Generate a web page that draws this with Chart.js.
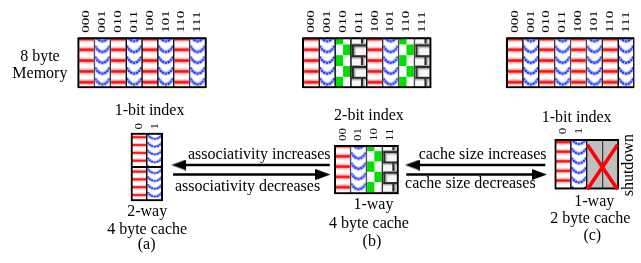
<!DOCTYPE html>
<html>
<head>
<meta charset="utf-8">
<script src="https://cdn.jsdelivr.net/npm/chart.js@4.4.1/dist/chart.umd.min.js"></script>
<style>
  html, body { margin: 0; padding: 0; background: #fff; }
  canvas { display: block; }
</style>
</head>
<body>
<canvas id="diagram" width="641" height="263"></canvas>
<script>
// ---- values ----
var addressLabels = ['000', '001', '010', '011', '100', '101', '110', '111'];
var memoryFillA = ['red', 'blue', 'red', 'blue', 'red', 'blue', 'red', 'blue'];
var memoryFillB = ['red', 'blue', 'green', 'brick', 'red', 'blue', 'green', 'brick'];
var memoryFillC = ['red', 'blue', 'red', 'blue', 'red', 'blue', 'red', 'blue'];
var cacheFillA = ['red', 'blue', 'red', 'blue'];      // 2 sets x 2 ways
var cacheFillB = ['red', 'blue', 'green', 'brick'];
var cacheFillC = ['red', 'blue', 'off', 'off'];
var indexLabelsA = ['0', '1'];
var indexLabelsB = ['00', '01', '10', '11'];
var indexLabelsC = ['0', '1'];
var indexTitles = ['1-bit index', '2-bit index', '1-bit index'];
var wayTitles = ['2-way', '1-way', '1-way'];
var sizeTitles = ['4 byte cache', '4 byte cache', '2 byte cache'];
var panelTags = ['(a)', '(b)', '(c)'];
var memoryTitle = ['8 byte', 'Memory'];
var arrowTexts = ['associativity increases', 'associativity decreases', 'cache size increases', 'cache size decreases'];
var offLabel = 'shutdown';

// ---- layout (pixel units of the x/y scales) ----
var cellW = 16.2;
var textSize = 16;
var serif = '"Liberation Serif", "DejaVu Serif", serif';
var boxes = [
    { fill: memoryFillA, labels: addressLabels, left: 73.5, top: 32.3, bottom: 86, cols: 8, period: 10.8, phase: 1.7, labelBottom: 27.5, labelSize: 15, squash: 0.7 },
    { fill: memoryFillB, labels: addressLabels, left: 303, top: 32.3, bottom: 86, cols: 8, period: 10.8, phase: 1.7, labelBottom: 27.5, labelSize: 15, squash: 0.7 },
    { fill: memoryFillC, labels: addressLabels, left: 511, top: 32.3, bottom: 86, cols: 8, period: 10.8, phase: 1.7, labelBottom: 27.5, labelSize: 15, squash: 0.7 },
    { fill: cacheFillA, labels: indexLabelsA, left: 127, top: 132.7, bottom: 205, cols: 2, period: 7.8, phase: 4.6, labelBottom: 129.5, labelSize: 13, squash: 0.85 },
    { fill: cacheFillB, labels: indexLabelsB, left: 335, top: 145.7, bottom: 197.5, cols: 4, period: 10.3, phase: 1, labelBottom: 141.5, labelSize: 13, squash: 0.85 },
    { fill: cacheFillC, labels: indexLabelsC, left: 560, top: 139.5, bottom: 192.5, cols: 4, period: 9.6, phase: 3, labelBottom: 134.5, labelSize: 13, squash: 0.85 }
];
var indexTitlePos = [[146, 110], [370, 115], [582, 117]];
var wayTitlePos = [[143.5, 216.5], [374.5, 209], [600, 205.5]];
var sizeTitlePos = [[143.5, 235.5], [370, 228.5], [596, 223.5]];
var panelTagPos = [[143, 251], [373, 248], [598, 241]];
var memoryTitlePos = [[34, 52.5], [34, 71]];
var arrowTextPos = [[258, 156], [246, 189.5], [486, 156], [473.5, 187]];
var offLabelPos = [639.5, 167];
var arrows = [
    { from: 330, to: 168.5, y: 166.8 },
    { from: 170, to: 330.5, y: 176.8 },
    { from: 550, to: 407, y: 166.8 },
    { from: 408, to: 551.5, y: 176.8 }
];

// ---- fill patterns ----
function newTile(w, h) {
    var c = document.createElement('canvas');
    c.width = w;
    c.height = h;
    return c;
}

function buildTiles() {
    var t = {};
    var c, g, k, base;

    c = newTile(16, 22); g = c.getContext('2d');
    g.fillStyle = '#fff'; g.fillRect(0, 0, 16, 22);
    for (k = 0; k < 2; k++) {
        base = k * 11;
        g.fillStyle = '#ffbcbc'; g.fillRect(0, base + 2.5, 16, 6);
        g.fillStyle = '#ff0a0a'; g.fillRect(0, base + 4.2, 16, 2.6);
    }
    t.red = c;

    c = newTile(16, 22); g = c.getContext('2d');
    g.fillStyle = '#fff'; g.fillRect(0, 0, 16, 22);
    for (k = 0; k < 2; k++) {
        base = k * 11;
        g.beginPath();
        g.moveTo(0.5, base + 1.5);
        g.quadraticCurveTo(8, base + 14, 15.5, base + 1.5);
        g.setLineDash([]);
        g.strokeStyle = '#b4bdff'; g.lineWidth = 3.8; g.stroke();
        g.setLineDash([2, 1]);
        g.strokeStyle = '#1428ff'; g.lineWidth = 2.2; g.stroke();
    }
    t.blue = c;

    c = newTile(16, 22); g = c.getContext('2d');
    g.fillStyle = '#fff'; g.fillRect(0, 0, 16, 22);
    g.fillStyle = '#00e000';
    g.fillRect(0, 0, 8, 11);
    g.fillRect(8, 11, 8, 11);
    t.green = c;

    c = newTile(16, 22); g = c.getContext('2d');
    g.fillStyle = '#f6f6f6'; g.fillRect(0, 0, 16, 22);
    for (k = 0; k < 2; k++) {
        base = k * 11;
        var vx = k === 0 ? 10 : 1;
        g.fillStyle = '#a8a8a8';
        g.fillRect(0, base + 2, 16, 1.5);
        g.fillRect(vx + 2, base + 2, 1.5, 9);
        g.fillRect(0, base - 1, 16, 1);
        g.fillStyle = '#2a2a2a';
        g.fillRect(0, base, 16, 2);
        g.fillRect(vx, base, 2, 11);
    }
    t.brick = c;

    c = newTile(15, 11); g = c.getContext('2d');
    g.fillStyle = '#000';
    g.beginPath(); g.moveTo(0, 0); g.lineTo(15, 5.5); g.lineTo(0, 11); g.closePath(); g.fill();
    t.arrowHead = c;
    return t;
}
var tiles = buildTiles();

function cellFill(chart, kind, box, px, py) {
    if (kind === 'off') return '#c0c0c0';
    var pat = chart.ctx.createPattern(tiles[kind], 'repeat');
    var s = box.period / 11;
    pat.setTransform(new DOMMatrix().translateSelf(px, py + box.phase - 5.5 * s).scaleSelf(cellW / 16, s));
    return pat;
}

// ---- datasets ----
var datasets = [];

boxes.forEach(function (box) {
    var rows = box.fill.length / box.cols;
    var h = (box.bottom - box.top) / rows;
    var cells = box.fill.map(function (kind, i) {
        var col = i % box.cols, row = Math.floor(i / box.cols);
        return { x: box.left + (col + 0.5) * cellW, y: [box.top + row * h, box.top + (row + 1) * h] };
    });
    datasets.push({
        type: 'bar',
        data: cells,
        grouped: false,
        barThickness: cellW,
        borderWidth: 1,
        borderColor: '#000',
        borderSkipped: false,
        inflateAmount: 0,
        order: 3,
        backgroundColor: function (c) {
            if (c.type !== 'data' || !c.raw) return '#fff';
            var px = c.chart.scales.x.getPixelForValue(c.raw.x) - cellW / 2;
            var py = c.chart.scales.y.getPixelForValue(c.raw.y[0]);
            return cellFill(c.chart, box.fill[c.dataIndex], box, px, py);
        }
    });
    // outer frame
    datasets.push({
        type: 'bar',
        data: [{ x: box.left + box.cols * cellW / 2, y: [box.top, box.bottom] }],
        grouped: false,
        barThickness: box.cols * cellW,
        borderWidth: 2,
        borderColor: '#000',
        borderSkipped: false,
        inflateAmount: 0,
        backgroundColor: 'rgba(0,0,0,0)',
        order: 2
    });
});

arrows.forEach(function (a) {
    var dir = a.to > a.from ? 1 : -1;
    datasets.push({
        type: 'line',
        data: [{ x: a.from, y: a.y }, { x: a.to - dir * 7.5, y: a.y }],
        borderColor: '#000',
        borderWidth: 2.6,
        tension: 0,
        fill: false,
        pointStyle: function (c) { return c.dataIndex === 1 ? tiles.arrowHead : 'circle'; },
        pointRadius: function (c) { return c.dataIndex === 1 ? 1 : 0; },
        pointRotation: dir > 0 ? 0 : 180,
        order: 1
    });
});

// red cross over the switched-off ways of (c)
var boxC = boxes[5];
var firstOff = cacheFillC.indexOf('off');
var offX0 = boxC.left + firstOff * cellW + 0.5;
var offX1 = boxC.left + boxC.cols * cellW - 1;
[[boxC.top + 6, boxC.bottom], [boxC.bottom, boxC.top + 6]].forEach(function (ys) {
    datasets.push({
        type: 'line',
        data: [{ x: offX0, y: ys[0] }, { x: offX1, y: ys[1] }],
        borderColor: '#ff0000',
        borderWidth: 3.6,
        pointRadius: 0,
        tension: 0,
        order: 0
    });
});

// ---- text ----
var textPlugin = {
    id: 'diagramText',
    afterDatasetsDraw: function (chart) {
        var ctx = chart.ctx;
        var sx = chart.scales.x, sy = chart.scales.y;
        function X(v) { return sx.getPixelForValue(v); }
        function Y(v) { return sy.getPixelForValue(v); }
        function put(str, pos, size) {
            ctx.save();
            ctx.font = size + 'px ' + serif;
            ctx.fillStyle = '#000';
            ctx.textAlign = 'center';
            ctx.textBaseline = 'middle';
            ctx.fillText(str, X(pos[0]), Y(pos[1]));
            ctx.restore();
        }

        boxes.forEach(function (box) {
            box.labels.forEach(function (lab, i) {
                ctx.save();
                ctx.translate(X(box.left + (i + 0.5) * cellW), Y(box.labelBottom));
                ctx.rotate(-Math.PI / 2);
                ctx.scale(1, box.squash);
                ctx.font = box.labelSize + 'px ' + serif;
                ctx.fillStyle = '#000';
                ctx.textAlign = 'left';
                ctx.textBaseline = 'middle';
                ctx.fillText(lab, 0, 0);
                ctx.restore();
            });
        });

        memoryTitle.forEach(function (s, i) { put(s, memoryTitlePos[i], textSize); });
        indexTitles.forEach(function (s, i) { put(s, indexTitlePos[i], textSize); });
        wayTitles.forEach(function (s, i) { put(s, wayTitlePos[i], textSize); });
        sizeTitles.forEach(function (s, i) { put(s, sizeTitlePos[i], textSize); });
        panelTags.forEach(function (s, i) { put(s, panelTagPos[i], textSize); });
        arrowTexts.forEach(function (s, i) { put(s, arrowTextPos[i], textSize); });

        ctx.save();
        ctx.translate(X(offLabelPos[0]), Y(offLabelPos[1]));
        ctx.rotate(-Math.PI / 2);
        ctx.font = textSize + 'px ' + serif;
        ctx.fillStyle = '#000';
        ctx.textAlign = 'center';
        ctx.textBaseline = 'alphabetic';
        ctx.fillText(offLabel, 0, 0);
        ctx.restore();
    }
};

var diagram = new Chart(document.getElementById('diagram'), {
    type: 'bar',
    data: { datasets: datasets },
    options: {
        responsive: false,
        animation: false,
        events: [],
        layout: { padding: 0 },
        plugins: {
            legend: { display: false },
            tooltip: { enabled: false },
            title: { display: false }
        },
        scales: {
            x: { type: 'linear', min: 0, max: 641, display: false, offset: false },
            y: { type: 'linear', min: 0, max: 263, reverse: true, display: false }
        }
    },
    plugins: [textPlugin]
});
</script>
</body>
</html>
